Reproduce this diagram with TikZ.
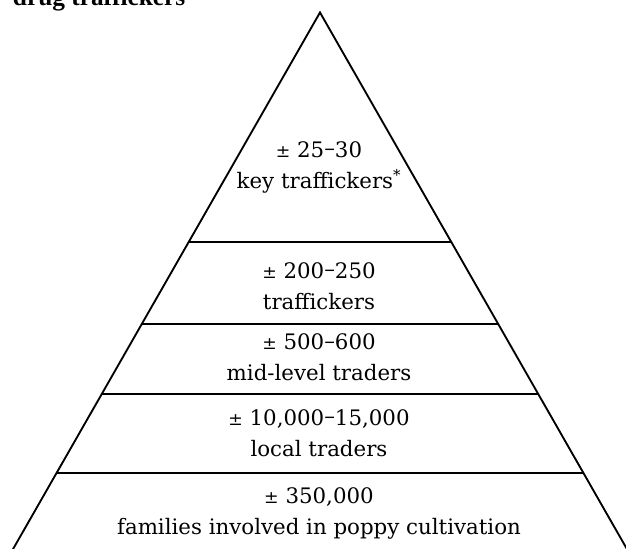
\documentclass[tikz,border=0pt]{standalone}
\usepackage{fontspec}
\setmainfont{DejaVu Serif}
\newfontfamily\titlefont{Liberation Serif}
\newcommand{\plusminus}{{\fontsize{13}{13}\selectfont ±}}
\newcommand{\rangedash}{\raisebox{0.08em}{–}}

\begin{document}
\begin{tikzpicture}[x=0.75pt,y=-0.75pt,line width=1.4pt,
    tier/.style={align=center,inner sep=0pt,font=\fontsize{16}{23.2}\selectfont}]

            \clip (0,0) rectangle (626,549);

            \node[anchor=base west,inner sep=0pt,font=\titlefont\bfseries\fontsize{19}{22}\selectfont] (title) at (12,5.5) {drug traffickers};

            \coordinate (apex) at (320,12.5);

            \coordinate (baseL) at (6.8,560);

            \coordinate (baseR) at (633.2,560);

            \draw[line join=miter] (baseL) -- (apex) -- (baseR);

            \foreach \y in {241.7,324.3,394,473}
                \draw ({320-0.572*(\y-12.5)},\y) -- ({320+0.572*(\y-12.5)},\y);

            \node[tier] (keytraffickers) at (319,167.5) {\plusminus\ 25\rangedash30\\key traffickers\textsuperscript{*}};

            \node[tier] (traffickers) at (319,286) {\plusminus\ 200\rangedash250\\traffickers};

            \node[tier] (midtraders) at (319,357.5) {\plusminus\ 500\rangedash600\\mid-level traders};

            \node[tier] (localtraders) at (319,433) {\plusminus\ 10,000\rangedash15,000\\local traders};

            \node[tier] (families) at (319,513) {\plusminus\ 350,000\\families involved in poppy cultivation};

        \end{tikzpicture}
\end{document}
